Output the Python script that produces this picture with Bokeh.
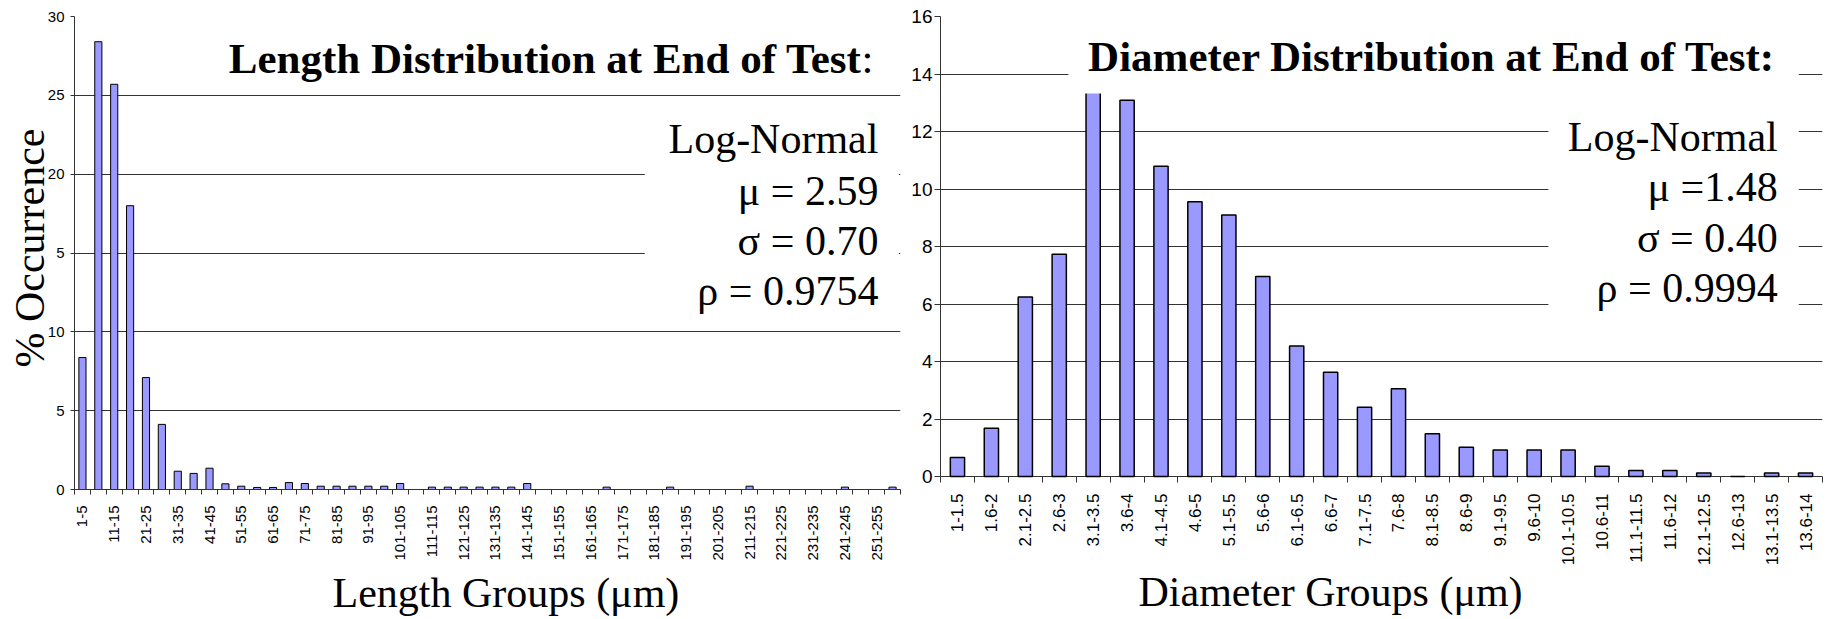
from math import pi
from bokeh.plotting import figure
from bokeh.models import (Label, BoxAnnotation, FixedTicker, Range1d, ColumnDataSource,
                          Title, LinearAxis)
from bokeh.layouts import row
from bokeh.embed import file_html
from bokeh.resources import INLINE

# ---------------- data ----------------
length_groups = ["1-5", "6-10", "11-15", "16-20", "21-25", "26-30", "31-35", "36-40",
                 "41-45", "46-50", "51-55", "56-60", "61-65", "66-70", "71-75", "76-80",
                 "81-85", "86-90", "91-95", "96-100", "101-105", "106-110", "111-115",
                 "116-120", "121-125", "126-130", "131-135", "136-140", "141-145",
                 "146-150", "151-155", "156-160", "161-165", "166-170", "171-175",
                 "176-180", "181-185", "186-190", "191-195", "196-200", "201-205",
                 "206-210", "211-215", "216-220", "221-225", "226-230", "231-235",
                 "236-240", "241-245", "246-250", "251-255", "256-260"]
length_pct = [8.37, 28.4, 25.7, 18.0, 7.1, 4.13, 1.16, 1.02, 1.35, 0.36,
              0.21, 0.13, 0.13, 0.44, 0.38, 0.21, 0.21, 0.21, 0.21, 0.21,
              0.38, 0.0, 0.15, 0.15, 0.15, 0.15, 0.15, 0.15, 0.38, 0.0,
              0.0, 0.0, 0.0, 0.15, 0.0, 0.0, 0.0, 0.15, 0.0, 0.0,
              0.0, 0.0, 0.21, 0.0, 0.0, 0.0, 0.0, 0.0, 0.15, 0.0,
              0.0, 0.15]
length_yticks = [0, 5, 10, 15, 20, 25, 30]
length_ylabels = {15: "5"}

diam_groups = ["1-1.5", "1.6-2", "2.1-2.5", "2.6-3", "3.1-3.5", "3.6-4", "4.1-4.5",
               "4.6-5", "5.1-5.5", "5.6-6", "6.1-6.5", "6.6-7", "7.1-7.5", "7.6-8",
               "8.1-8.5", "8.6-9", "9.1-9.5", "9.6-10", "10.1-10.5", "10.6-11",
               "11.1-11.5", "11.6-12", "12.1-12.5", "12.6-13", "13.1-13.5", "13.6-14"]
diam_pct = [0.66, 1.68, 6.24, 7.73, 13.5, 13.09, 10.79, 9.56, 9.1, 6.96,
            4.54, 3.63, 2.41, 3.05, 1.49, 1.02, 0.92, 0.92, 0.92, 0.36,
            0.21, 0.21, 0.12, 0.0, 0.12, 0.12]
diam_yticks = [0, 2, 4, 6, 8, 10, 12, 14, 16]

length_stats = ["Log-Normal", "μ = 2.59", "σ = 0.70", "ρ = 0.9754"]
diam_stats = ["Log-Normal", "μ =1.48", "σ = 0.40", "ρ = 0.9994"]

SERIF = "Liberation Serif"
SANS = "Liberation Sans"
BAR = "#9999FF"
GRID = "#333333"


def style(p, yticks, xlab_size, ylab_size, ytick_out, ystandoff, xstandoff):
    p.xgrid.visible = False
    p.ygrid.grid_line_color = GRID
    p.ygrid.grid_line_width = 1
    p.outline_line_color = None
    for ax in (p.xaxis, p.yaxis):
        ax.axis_line_color = GRID
        ax.major_tick_line_color = GRID
        ax.minor_tick_line_color = GRID
        ax.major_label_text_font = SANS
        ax.major_label_text_color = "black"
    p.yaxis.ticker = FixedTicker(ticks=yticks, minor_ticks=[])
    p.yaxis.major_tick_out = ytick_out
    p.yaxis.major_tick_in = 0
    p.yaxis.major_label_text_font_size = ylab_size
    p.yaxis.major_label_standoff = ystandoff
    p.xaxis.major_tick_out = 0
    p.xaxis.major_tick_in = 0
    p.xaxis.major_label_orientation = pi / 2
    p.xaxis.major_label_text_font_size = xlab_size
    p.xaxis.major_label_standoff = xstandoff


def spacer(n):
    return LinearAxis(ticker=FixedTicker(ticks=[0], minor_ticks=[]), major_tick_out=n,
                      major_tick_in=0, minor_tick_out=0, minor_tick_in=0, axis_line_alpha=0,
                      major_tick_line_alpha=0, minor_tick_line_alpha=0,
                      major_label_overrides={0: ""}, major_label_text_font_size="1px",
                      major_label_text_alpha=0, major_label_standoff=0)


def label(p, x, y, text, size, bold=False, align="right"):
    # anchored on the middle of the text line
    p.add_layout(Label(x=x, y=y, text=text, text_font=SERIF, text_font_size=size,
                       text_font_style="bold" if bold else "normal",
                       text_align=align, text_baseline="middle",
                       text_color="black"))


def side_title(p, text, place, offset, valign, standoff=2):
    try:
        t = Title(text=text, align="left", offset=offset, standoff=standoff,
                  vertical_align=valign, text_font=SERIF, text_font_size="42px",
                  text_font_style="normal", text_color="black")
    except Exception:
        t = Title(text=text, align="left", offset=offset, standoff=0,
                  vertical_align=valign, text_font=SERIF, text_font_size="42px",
                  text_font_style="normal", text_color="black")
    p.add_layout(t, place)


# ---------------- left: length ----------------
nL = len(length_groups)
p1 = figure(width=905, height=619, x_range=Range1d(-0.5, nL - 0.5), y_range=Range1d(0, 30),
            min_border_left=74, min_border_right=5, min_border_top=16, min_border_bottom=130,
            output_backend="svg", toolbar_location=None)
src1 = ColumnDataSource(dict(x=list(range(nL)), top=length_pct, name=length_groups))
p1.vbar(x="x", top="top", width=0.45, bottom=0, source=src1, fill_color=BAR,
        line_color="black", line_width=1)
style(p1, length_yticks, "15px", "15px", 4, 6, 11)
p1.xaxis.minor_tick_out = 5
p1.xaxis.minor_tick_in = 0
p1.xaxis.ticker = FixedTicker(ticks=list(range(0, nL, 2)),
                              minor_ticks=[i - 0.5 for i in range(nL + 1)])
p1.xaxis.major_label_overrides = {i: length_groups[i] for i in range(0, nL, 2)}
p1.yaxis.major_label_overrides = length_ylabels

p1.add_layout(BoxAnnotation(left=35.4, right=51.4, bottom=10.8, top=24.4,
                            fill_color="white", fill_alpha=1.0, line_alpha=0))
label(p1, 49.05, 27.32, "Length Distribution at End of Test", "43px", bold=True)
label(p1, 49.05, 27.32, ":", "43px", align="left")
for txt, yy in zip(length_stats, [22.25, 18.95, 15.78, 12.61]):
    label(p1, 50.11, yy, txt, "42px")

p1.add_layout(spacer(5), "below")
side_title(p1, "Length Groups (μm)", "below", 258, "top")
side_title(p1, "% Occurrence", "left", 122, "bottom", standoff=-16)

# ---------------- right: diameter ----------------
# frame bottom sits 13px under the zero line (the frames of the row are aligned);
# the zero grid line acts as the axis line and the ticks hang from it.
nD = len(diam_groups)
p2 = figure(width=923, height=619, x_range=Range1d(-0.5, nD - 0.5),
            y_range=Range1d(-0.452, 16),
            min_border_left=35, min_border_right=6, min_border_top=16, min_border_bottom=130,
            output_backend="svg", toolbar_location=None)
src2 = ColumnDataSource(dict(x=list(range(nD)), top=diam_pct, name=diam_groups))
p2.vbar(x="x", top="top", width=0.42, bottom=0, source=src2, fill_color=BAR,
        line_color="black", line_width=1.5)
style(p2, diam_yticks, "17px", "19px", 6, 2, 4)
p2.yaxis.bounds = (0, 16)
p2.xaxis.axis_line_alpha = 0
p2.xaxis.minor_tick_in = 13
p2.xaxis.minor_tick_out = -7
p2.xaxis.ticker = FixedTicker(ticks=list(range(nD)),
                              minor_ticks=[i - 0.5 for i in range(nD + 1)])
p2.xaxis.major_label_overrides = {i: diam_groups[i] for i in range(nD)}

p2.add_layout(BoxAnnotation(left=3.27, right=24.8, bottom=13.32, top=15.6,
                            fill_color="white", fill_alpha=1.0, line_alpha=0))
p2.add_layout(BoxAnnotation(left=17.42, right=24.8, bottom=5.5, top=13.32,
                            fill_color="white", fill_alpha=1.0, line_alpha=0))
label(p2, 24.12, 14.61, "Diameter Distribution at End of Test:", "43px", bold=True)
for txt, yy in zip(diam_stats, [11.81, 10.07, 8.30, 6.56]):
    label(p2, 24.18, yy, txt, "42px")

side_title(p2, "Diameter Groups (μm)", "below", 198, "top", standoff=0)

layout = row(p1, p2)
open("out.html", "w").write(file_html(layout, INLINE))
